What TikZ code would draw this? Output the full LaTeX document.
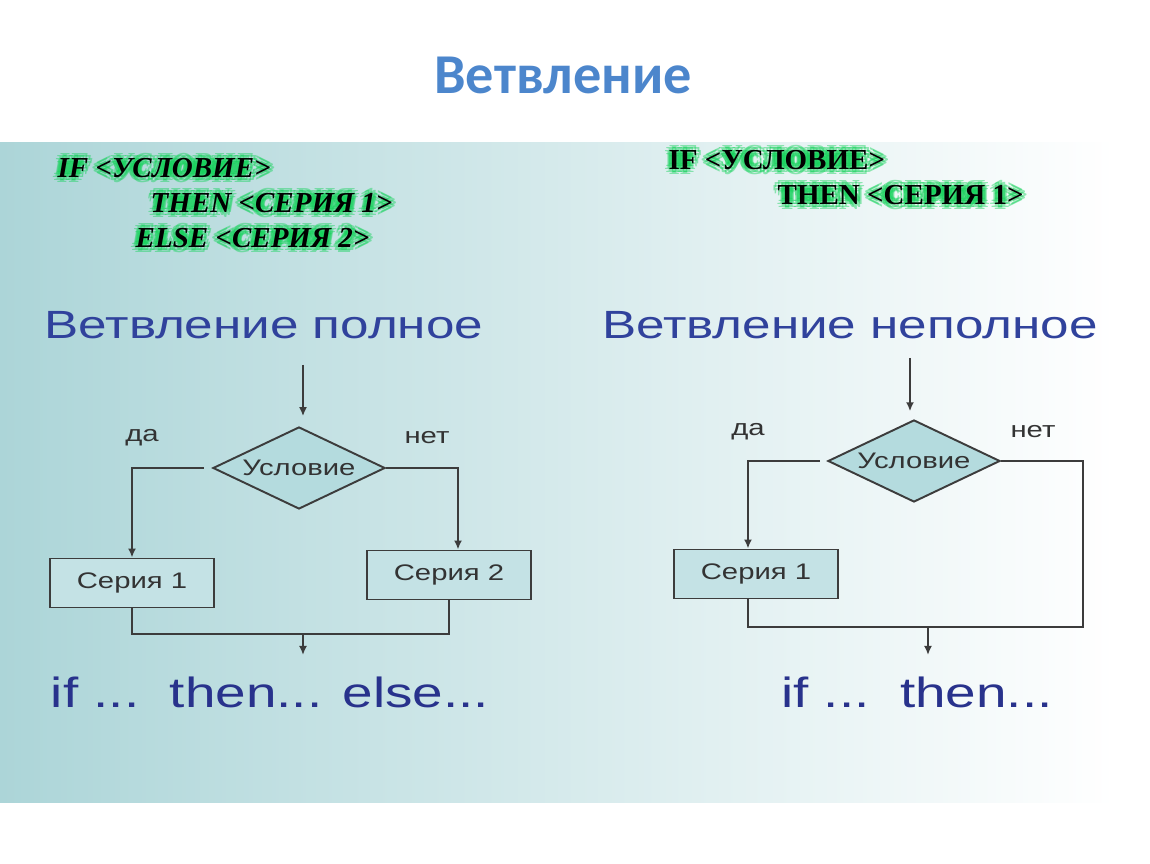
\documentclass[tikz,border=0pt]{standalone}
\usepackage{fontspec}
\setmainfont{Liberation Sans}
\newfontfamily\chartfont[FakeStretch=1.3]{Liberation Sans}
\newfontfamily\codefont{Liberation Serif}
\newfontfamily\titlefont{Carlito}
\usetikzlibrary{arrows.meta,shapes.geometric}
\newcommand{\branchtip}{-{Latex[length=0.9mm,width=0.8mm]}}
\definecolor{panelteal}{RGB}{172,213,216}
\definecolor{titleblue}{RGB}{76,134,204}
\definecolor{headblue}{RGB}{48,66,156}
\definecolor{ifblue}{RGB}{40,50,140}
\definecolor{glowgreen}{RGB}{20,210,90}
\definecolor{boxfill}{RGB}{196,226,229}
\definecolor{condfill}{RGB}{180,219,222}
\definecolor{linegray}{RGB}{60,60,60}

\begin{document}
\begin{tikzpicture}[
    x=0.01cm, y=-0.01cm,
    ln/.style={draw=linegray, line width=0.55pt},
    flow/.style={ln, \branchtip},
    cond/.style={diamond, aspect=2.1, draw=linegray, line width=0.55pt, fill=condfill, inner sep=0pt,
      minimum width=1.72cm, minimum height=0.82cm, text=black!80, font=\chartfont\fontsize{6.4}{7}\selectfont},
    serbox/.style={rectangle, draw=linegray, line width=0.55pt, fill=boxfill, inner sep=0pt,
      minimum width=1.63cm, minimum height=0.49cm, text=black!80, font=\chartfont\fontsize{6.4}{7}\selectfont},
    answer/.style={text=black!80, font=\chartfont\fontsize{6.4}{7}\selectfont},
    head/.style={text=headblue, font=\chartfont\fontsize{11.2}{13}\selectfont},
    syntax/.style={text=ifblue, font=\chartfont\fontsize{12}{14}\selectfont},
    code/.style={anchor=west, inner sep=0pt, text=black, font=\codefont\bfseries\fontsize{8.25}{10}\selectfont},
    codeit/.style={code, font=\codefont\bfseries\itshape\fontsize{8.25}{10}\selectfont},
    glow/.style={text=glowgreen, text opacity=0.45}
]
  \useasboundingbox (0,0) rectangle (1150,864);
  \shade[left color=panelteal, right color=white] (0,143) rectangle (1115,803);

  \node[text=titleblue, font=\titlefont\bfseries\fontsize{16}{18}\selectfont] (title) at (563,75) {Ветвление};

  % operator text with green glow
  \foreach \n/\px/\py/\f/\txt in {
      iffull/57/168/codeit/{IF <УСЛОВИЕ>},
      thenfull/150/203/codeit/{THEN <СЕРИЯ 1>},
      elsefull/135/238/codeit/{ELSE <СЕРИЯ 2>},
      ifpart/668/160/code/{IF <УСЛОВИЕ>},
      thenpart/777/195/code/{THEN <СЕРИЯ 1>}} {
    \foreach \a in {0,45,...,315}
      \node[\f, glow, shift={(\a:1.3pt)}] at (\px,\py) {\txt};
    \node[\f] (\n) at (\px,\py) {\txt};
  }

  \node[head] (headfull) at (264,325) {Ветвление полное};
  \node[head] (headpart) at (850,325) {Ветвление неполное};

  % full branching
  \coordinate (infull) at (303,365);
  \node[cond] (condfull) at (299,468) {Условие};
  \node[serbox] (serfull1) at (132,583) {Серия 1};
  \node[serbox] (serfull2) at (449,575) {Серия 2};
  \node[answer] (yesfull) at (142,438) {да};
  \node[answer] (nofull) at (427,438) {нет};
  \coordinate (joinfull) at (303,634);
  \coordinate (outfull) at (303,655);

  \draw[flow, shorten >=2.8pt] (infull) -- (infull |- condfull.north);
  \draw[flow] ([xshift=-0.08cm]condfull.west) -| (serfull1.north);
  \draw[flow] (condfull.east) -| ([xshift=0.09cm]serfull2.north);
  \draw[ln] (serfull1.south) |- (serfull2.south |- joinfull) -- (serfull2.south);
  \draw[flow] (joinfull) -- (outfull);

  \node[syntax] (ifelse) at (270,692) {if ...\ \ then... else...};

  % partial branching
  \coordinate (inpart) at (910,358);
  \node[cond] (condpart) at (914,461) {Условие};
  \node[serbox] (serpart1) at (756,574) {Серия 1};
  \node[answer] (yespart) at (748,432) {да};
  \node[answer] (nopart) at (1033,432) {нет};
  \coordinate (cornerpart) at (1083,627);
  \coordinate (joinpart) at (928,627);
  \coordinate (outpart) at (928,655);

  \draw[flow, shorten >=2.2pt] (inpart) -- (inpart |- condpart.north);
  \draw[flow] ([xshift=-0.07cm]condpart.west) -| ([xshift=-0.08cm]serpart1.north);
  \draw[ln] (condpart.east) -| (cornerpart) -- ([xshift=-0.08cm]serpart1.south |- cornerpart) -- ([xshift=-0.08cm]serpart1.south);
  \draw[flow] (joinpart) -- (outpart);

  \node[syntax] (ifthen) at (917,692) {if ...\ \ then...};
\end{tikzpicture}
\end{document}
